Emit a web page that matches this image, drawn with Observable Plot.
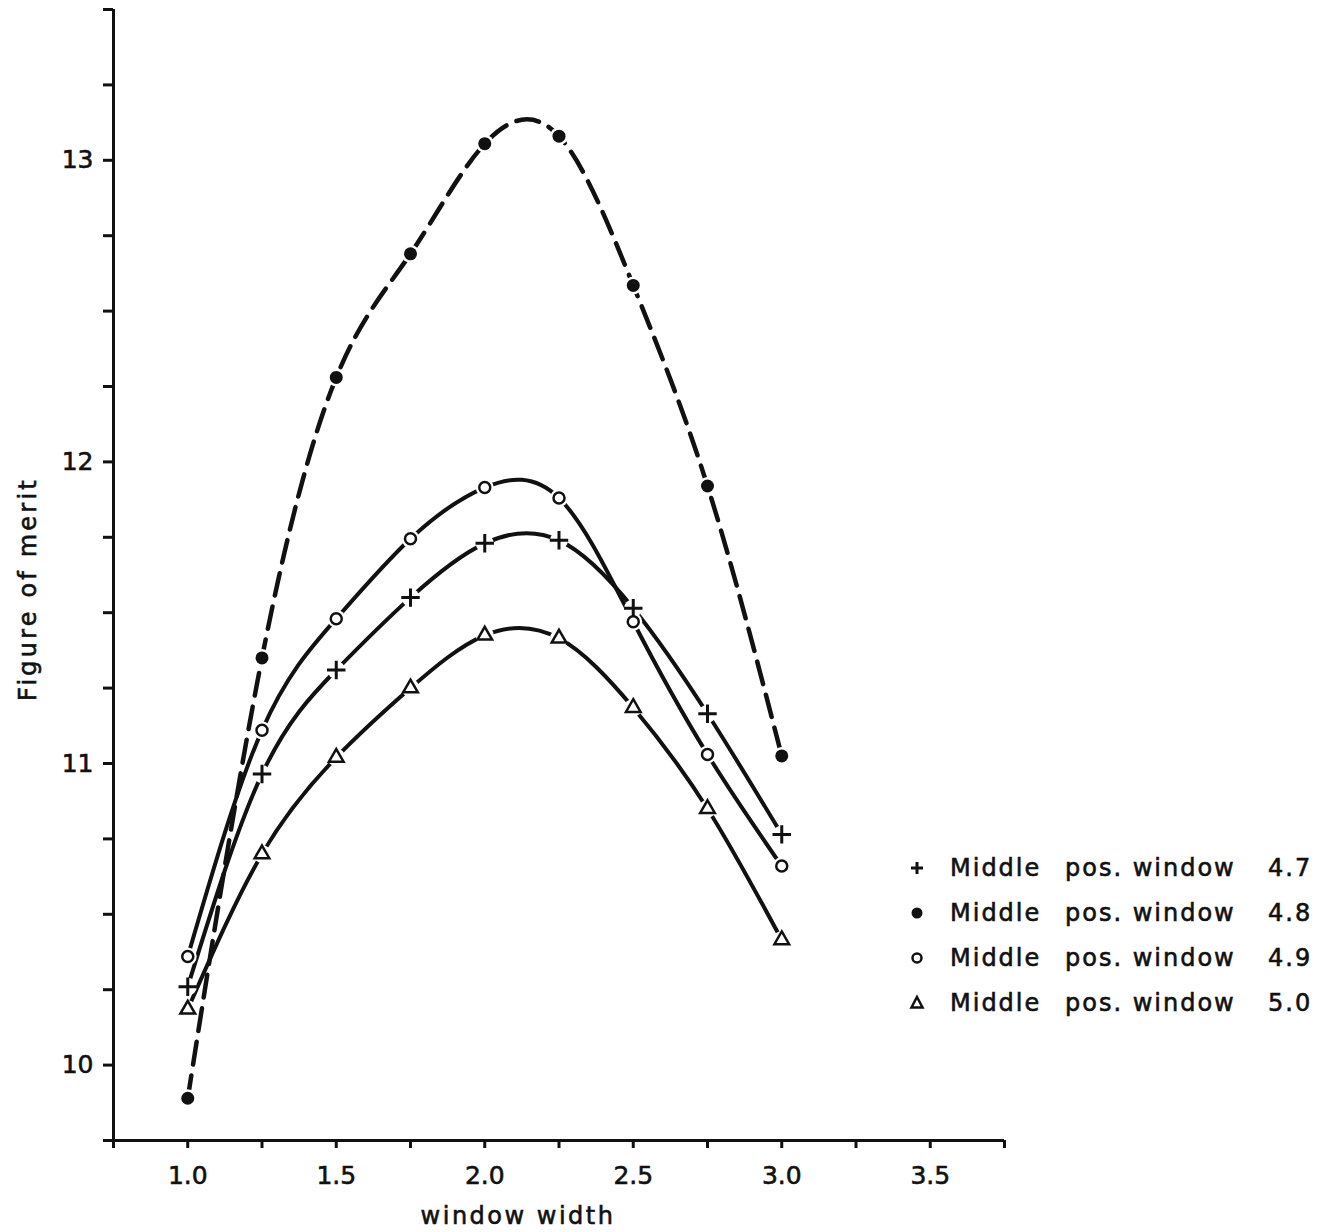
<!DOCTYPE html>
<html>
<head>
<meta charset="utf-8">
<script src="https://cdn.jsdelivr.net/npm/d3@7"></script>
<script src="https://cdn.jsdelivr.net/npm/@observablehq/plot@0.6"></script>
<style>
  html, body { margin: 0; padding: 0; background: #fff; }
  #wrap { position: relative; width: 1325px; height: 1232px; font-family: "DejaVu Sans", sans-serif; color: #111; }
  #wrap > svg { display: block; }
  #wrap > svg text { stroke: #111; stroke-width: 0.6px; }
  #legend { position: absolute; left: 0; top: 0; width: 1325px; height: 1232px; pointer-events: none; }
  .row { position: absolute; height: 30px; font-size: 24px; letter-spacing: 2px; line-height: 30px; color: #111; -webkit-text-stroke: 0.6px #111; }
  .row span { position: absolute; white-space: pre; }
  .row svg { position: absolute; }
</style>
</head>
<body>
<div id="wrap"><div id="legend"></div></div>
<script>
// ---- data ----
const widths = [1.0, 1.25, 1.5, 1.75, 2.0, 2.25, 2.5, 2.75, 3.0];
const merit47 = [10.26, 10.965, 11.31, 11.55, 11.73, 11.74, 11.515, 11.165, 10.765];
const merit48 = [9.89, 11.35, 12.28, 12.69, 13.055, 13.08, 12.585, 11.92, 11.025];
const merit49 = [10.36, 11.11, 11.48, 11.745, 11.915, 11.88, 11.47, 11.03, 10.66];
const merit50 = [10.185, 10.70, 11.02, 11.25, 11.425, 11.415, 11.185, 10.85, 10.415];
const seriesNames = ["4.7", "4.8", "4.9", "5.0"];
const seriesValues = [merit47, merit48, merit49, merit50];
const legendPrefix = ["Middle", "pos. window"];
const xTitle = "window width";
const yTitle = "Figure of merit";
const xDomain = [0.75, 3.75];
const yDomain = [9.75, 13.5];
const xTicks = d3.range(3, 16).map(i => i * 0.25);
const yTicks = d3.range(39, 55).map(i => i * 0.25);
const xLabelTicks = [1.0, 1.5, 2.0, 2.5, 3.0, 3.5];
const yLabelTicks = [10, 11, 12, 13];

const rows = [];
seriesNames.forEach((s, k) => widths.forEach((w, i) => rows.push({series: s, width: w, merit: seriesValues[k][i]})));
const of = s => rows.filter(d => d.series === s);

const near = (a, b) => Math.abs(a - b) < 1e-9;

const chart = Plot.plot({
  width: 1325,
  height: 1232,
  marginLeft: 113,
  marginRight: 321,
  marginTop: 9,
  marginBottom: 92,
  style: {fontFamily: "DejaVu Sans, sans-serif", fontSize: "25px", color: "#111", background: "white"},
  x: {domain: xDomain},
  y: {domain: yDomain},
  marks: [
    Plot.axisX({ticks: xTicks, tickSize: 8, tickPadding: 18, strokeWidth: 3, label: null, fontSize: 25,
      tickFormat: d => xLabelTicks.some(t => near(t, d)) ? d.toFixed(1) : ""}),
    Plot.axisY({ticks: yTicks, tickSize: 10, tickPadding: 10, strokeWidth: 3, label: null, fontSize: 25,
      tickFormat: d => yLabelTicks.some(t => near(t, d)) ? String(Math.round(d)) : ""}),
    Plot.ruleX([xDomain[0]], {y1: yDomain[0], y2: yDomain[1], strokeWidth: 3, stroke: "#111"}),
    Plot.ruleY([yDomain[0]], {x1: xDomain[0], x2: xDomain[1], strokeWidth: 3, stroke: "#111"}),
    // curves
    Plot.line(of("4.7"), {x: "width", y: "merit", curve: "natural", stroke: "#111", strokeWidth: 4}),
    Plot.line(of("4.9"), {x: "width", y: "merit", curve: "natural", stroke: "#111", strokeWidth: 4}),
    Plot.line(of("5.0"), {x: "width", y: "merit", curve: "natural", stroke: "#111", strokeWidth: 4}),
    Plot.line(of("4.8"), {x: "width", y: "merit", curve: "natural", stroke: "#111", strokeWidth: 4.5,
      strokeDasharray: "23,11", strokeLinecap: "round"}),
    // white gaps around markers
    Plot.dot(rows, {x: "width", y: "merit", r: 9, fill: "white", stroke: "none"}),
    // markers
    Plot.dot(of("4.7"), {x: "width", y: "merit", symbol: "plus", r: 6, stroke: "#111", strokeWidth: 3}),
    Plot.dot(of("4.8"), {x: "width", y: "merit", symbol: "circle", r: 6.5, fill: "#111", stroke: "none"}),
    Plot.dot(of("4.9"), {x: "width", y: "merit", symbol: "circle", r: 5.5, fill: "white", stroke: "#111", strokeWidth: 2.5}),
    Plot.dot(of("5.0"), {x: "width", y: "merit", symbol: "triangle2", r: 7, fill: "white", stroke: "#111", strokeWidth: 2.5}),
    // axis titles
    Plot.text([xTitle], {frameAnchor: "bottom", dx: -41, dy: 76, fontSize: 24, fill: "#111",
      text: d => d, textAnchor: "middle", lineAnchor: "middle"}),
    Plot.text([yTitle], {frameAnchor: "left", dx: -85, dy: 14, rotate: -90, fontSize: 24,
      fill: "#111", text: d => d, textAnchor: "middle", lineAnchor: "middle"})
  ]
});
chart.querySelectorAll("text").forEach(t => {
  if (t.textContent === xTitle) t.setAttribute("letter-spacing", "2.5");
  if (t.textContent === yTitle) t.setAttribute("letter-spacing", "3.2");
});
document.getElementById("wrap").prepend(chart);

// legend
const legend = document.getElementById("legend");
const symbolSvg = [
  '<svg width="20" height="20" viewBox="-10 -10 20 20"><path d="M-6,0H6M0,-6V6" stroke="#111" stroke-width="3"/></svg>',
  '<svg width="20" height="20" viewBox="-10 -10 20 20"><circle r="5.5" fill="#111"/></svg>',
  '<svg width="20" height="20" viewBox="-10 -10 20 20"><circle r="4.5" fill="white" stroke="#111" stroke-width="2.5"/></svg>',
  '<svg width="20" height="20" viewBox="-10 -10 20 20"><path d="M0,-6L5.5,4.5H-5.5Z" fill="white" stroke="#111" stroke-width="2.5"/></svg>'
];
const rowY = [868, 913, 958, 1003];
seriesNames.forEach((s, k) => {
  const row = document.createElement("div");
  row.className = "row";
  row.style.left = "0px";
  row.style.top = (rowY[k] - 15) + "px";
  row.innerHTML = symbolSvg[k].replace('<svg', '<svg style="left:907px;top:5px"') +
    `<span style="left:950px">${legendPrefix[0]}</span>` +
    `<span style="left:1065px">${legendPrefix[1]}</span>` +
    `<span style="left:1268px">${s}</span>`;
  legend.appendChild(row);
});
</script>
</body>
</html>
